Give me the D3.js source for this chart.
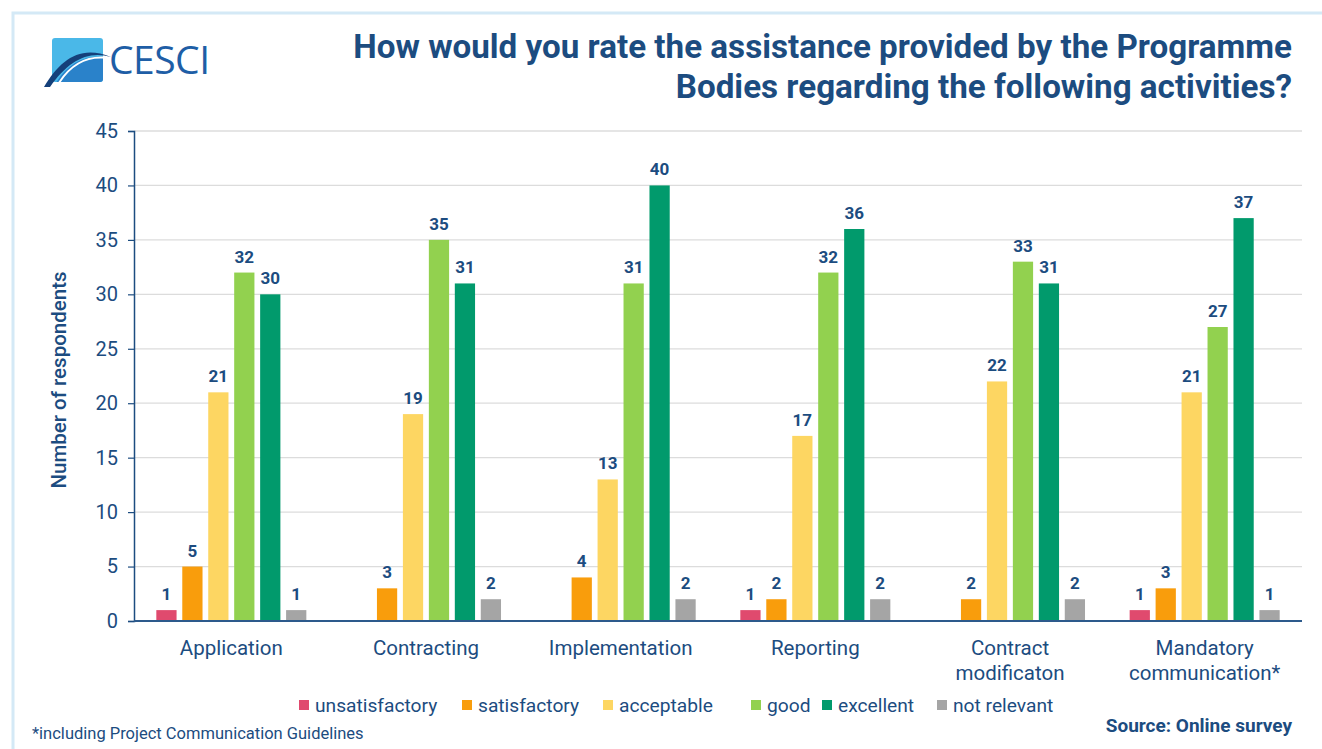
<!DOCTYPE html>
<html>
<head>
<meta charset="utf-8">
<script src="https://cdn.jsdelivr.net/npm/d3@7"></script>
<style>
  html, body { margin: 0; padding: 0; background: #fff; }
  svg { display: block; font-family: Roboto, "Noto Sans", sans-serif; }
</style>
</head>
<body>
<svg id="chart" width="1322" height="749"></svg>
<script>
// Survey answers per activity
const categories = [
  ["Application"],
  ["Contracting"],
  ["Implementation"],
  ["Reporting"],
  ["Contract", "modificaton"],
  ["Mandatory", "communication*"]
];
const seriesNames = ["unsatisfactory", "satisfactory", "acceptable", "good", "excellent", "not relevant"];
const unsatisfactory = [1, 0, 0, 1, 0, 1];
const satisfactory   = [5, 3, 4, 2, 2, 3];
const acceptable     = [21, 19, 13, 17, 22, 21];
const good           = [32, 35, 31, 32, 33, 27];
const excellent      = [30, 31, 40, 36, 31, 37];
const notRelevant    = [1, 2, 2, 2, 2, 1];
const yTicks = [0, 5, 10, 15, 20, 25, 30, 35, 40, 45];

const seriesValues = [unsatisfactory, satisfactory, acceptable, good, excellent, notRelevant];
const colors = ["#e04a6e", "#f99d0c", "#fdd662", "#92d14f", "#019a6c", "#a5a5a5"];
const navy = "#1c4c80";

const svg = d3.select("#chart");
const defs = svg.append("defs");

// page frame
svg.append("path")
  .attr("d", "M13,749 L13,13 L1322,13")
  .attr("fill", "none").attr("stroke", "#d4e9f6").attr("stroke-width", 3);

// logo: blue tile with a bridge arc
defs.append("clipPath").attr("id", "tileClip")
  .append("rect").attr("x", 52).attr("y", 38).attr("width", 51).attr("height", 44).attr("rx", 3);
const logo = svg.append("g");
const tile = logo.append("g").attr("clip-path", "url(#tileClip)");
tile.append("rect").attr("x", 52).attr("y", 38).attr("width", 51).attr("height", 44)
  .attr("fill", "#4ab8e8");
tile.append("path")
  .attr("d", "M52,90 C64,66 82,54 106,57 L106,90 Z")
  .attr("fill", "#2a82ca");
tile.append("path")
  .attr("d", "M56,88 C68,66 86,55 108,58")
  .attr("fill", "none").attr("stroke", "#ffffff").attr("stroke-width", 2);
logo.append("path")
  .attr("d", "M44,87 C60,60 80,44 111,57 C88,50 68,61 50,87 Z")
  .attr("fill", "#15407a");
logo.append("text").attr("x", 109).attr("y", 74)
  .attr("font-family", "'Open Sans', sans-serif").attr("font-size", 39)
  .attr("fill", "#1e5ea6").attr("letter-spacing", -0.5).text("CESCI");

// title
const title = svg.append("text").attr("text-anchor", "end")
  .attr("font-weight", "bold").attr("font-size", 33.2).attr("fill", navy);
title.append("tspan").attr("x", 1292).attr("y", 58)
  .text("How would you rate the assistance provided by the Programme");
title.append("tspan").attr("x", 1292).attr("y", 98)
  .text("Bodies regarding the following activities?");

// scales
const x0 = d3.scaleBand().domain(d3.range(categories.length)).range([134, 1302]);
const x1 = d3.scaleBand().domain(seriesNames).range([0, x0.bandwidth()])
  .paddingInner(0.22).paddingOuter(0.86);
const y = d3.scaleLinear().domain([0, 45]).range([621, 131]);

// gridlines
svg.append("g").selectAll("line").data(yTicks.filter(d => d > 0)).join("line")
  .attr("x1", 134).attr("x2", 1302)
  .attr("y1", d => y(d)).attr("y2", d => y(d))
  .attr("stroke", "#dcdcdc").attr("stroke-width", 1.3);

// y axis
const yAxis = svg.append("g").attr("transform", "translate(134,0)")
  .call(d3.axisLeft(y).tickValues(yTicks).tickSize(6).tickPadding(10));
yAxis.select(".domain").attr("stroke", navy).attr("stroke-width", 1.5);
yAxis.selectAll(".tick line").attr("stroke", navy).attr("stroke-width", 1.2);
yAxis.selectAll(".tick text").attr("font-size", 20).attr("fill", navy)
  .attr("font-family", "Roboto, sans-serif");

svg.append("text")
  .attr("transform", "translate(66,380) rotate(-90)")
  .attr("text-anchor", "middle").attr("font-size", 20.5).attr("font-weight", 500)
  .attr("fill", navy).text("Number of respondents");

// bars
const groups = svg.append("g").selectAll("g").data(categories).join("g")
  .attr("transform", (d, i) => `translate(${x0(i)},0)`);

groups.each(function(cat, ci) {
  const g = d3.select(this);
  const vals = seriesNames.map((s, si) => ({ s, si, v: seriesValues[si][ci] }))
    .filter(d => d.v > 0);
  g.selectAll("rect").data(vals).join("rect")
    .attr("x", d => x1(d.s)).attr("width", x1.bandwidth())
    .attr("y", d => y(d.v)).attr("height", d => y(0) - y(d.v))
    .attr("fill", d => colors[d.si]);
  g.selectAll("text.val").data(vals).join("text").attr("class", "val")
    .attr("x", d => x1(d.s) + x1.bandwidth() / 2).attr("y", d => y(d.v) - 10)
    .attr("text-anchor", "middle").attr("font-size", 17).attr("font-weight", "bold")
    .attr("fill", navy).text(d => d.v);
});

// x baseline
svg.append("line").attr("x1", 134).attr("x2", 1302).attr("y1", y(0)).attr("y2", y(0))
  .attr("stroke", "#2d5a8c").attr("stroke-width", 2);

// category labels
const catLabels = svg.append("g").selectAll("text").data(categories).join("text")
  .attr("text-anchor", "middle").attr("font-size", 20.5).attr("fill", navy);
catLabels.each(function(lines, i) {
  d3.select(this).selectAll("tspan").data(lines).join("tspan")
    .attr("x", x0(i) + x0.bandwidth() / 2)
    .attr("y", (d, j) => 655 + j * 25)
    .text(d => d);
});

// legend
const legendX = [299, 462, 603, 751, 822, 937];
const legend = svg.append("g").selectAll("g").data(seriesNames).join("g")
  .attr("transform", (d, i) => `translate(${legendX[i]},0)`);
legend.append("rect").attr("x", 0).attr("y", 700).attr("width", 10).attr("height", 10)
  .attr("fill", (d, i) => colors[i]);
legend.append("text").attr("x", 16).attr("y", 712)
  .attr("font-size", 19.2).attr("fill", navy).text(d => d);

// notes
svg.append("text").attr("x", 32).attr("y", 739).attr("font-size", 16.5)
  .attr("fill", navy).text("*including Project Communication Guidelines");
svg.append("text").attr("x", 1292).attr("y", 732).attr("text-anchor", "end")
  .attr("font-size", 19).attr("font-weight", "bold").attr("fill", navy)
  .text("Source: Online survey");
</script>
</body>
</html>
